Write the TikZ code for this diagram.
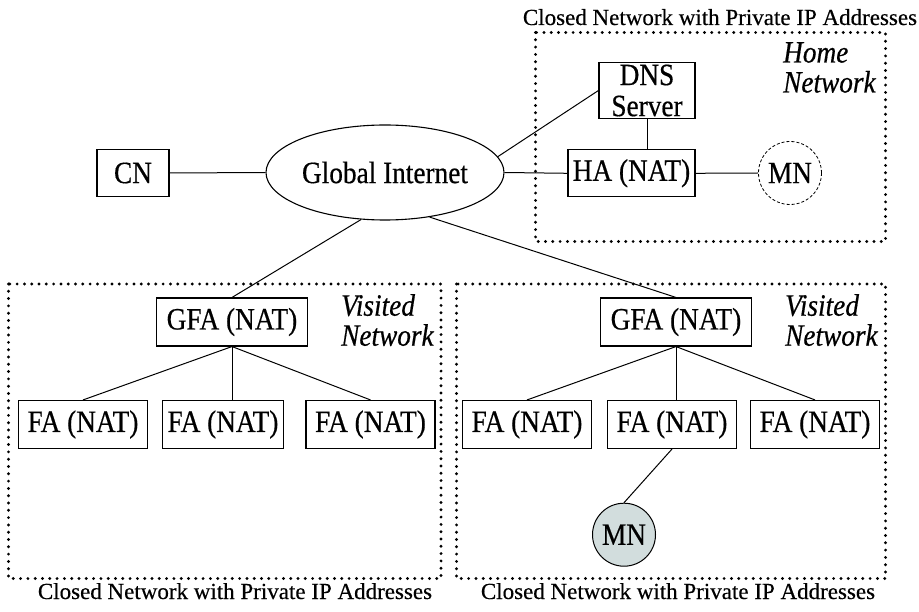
\documentclass[tikz,border=0pt]{standalone}
\usepackage{fontspec}
\setmainfont{Liberation Serif}[FakeBold=0.4]
\newfontfamily\nodefam{Liberation Serif}[FakeStretch=0.88,FakeBold=0.5]
\usetikzlibrary{shapes.geometric}
\definecolor{mngray}{RGB}{210,221,221}
\begin{document}
\begin{tikzpicture}[x=1pt,y=-1pt,
  nodefont/.style={font=\nodefam\fontsize{31}{31}\selectfont},
  box/.style={draw,line width=1.1pt,rectangle,inner sep=0pt,nodefont},
  fabox/.style={box,minimum width=129pt,minimum height=48pt},
  gfabox/.style={box,minimum width=151pt,minimum height=48pt},
  mnode/.style={draw,circle,inner sep=0pt,minimum size=63pt,nodefont},
  link/.style={line width=1pt},
  netbox/.style={line width=3.2pt,line cap=round,dash pattern=on 0pt off 7.3pt},
  netlabel/.style={font=\nodefam\fontsize{31}{30}\selectfont\itshape,align=left,inner sep=0pt,anchor=north west},
  closedlabel/.style={font=\fontsize{23}{25}\selectfont,inner sep=0pt,anchor=base}
]
\useasboundingbox (0,0) rectangle (919,612);
% dotted network boxes
\draw[netbox] (535.5,32.5) rectangle (885.5,241.5);
\draw[netbox] (8.5,284) rectangle (441,578.5);
\draw[netbox] (456.5,284) rectangle (885.5,578.5);
% labels of closed networks
\node[closedlabel] (lt) at (720,25) {Closed Network with Private IP Addresses};
\node[closedlabel] (lbl) at (235,599) {Closed Network with Private IP Addresses};
\node[closedlabel] (lbr) at (678,599) {Closed Network with Private IP Addresses};
\node[netlabel] (home) at (783,42) {Home\\Network};
\node[netlabel] (vis1) at (341,294) {Visited\\Network};
\node[netlabel] (vis2) at (785,294) {Visited\\Network};
% nodes
\node[box,minimum width=72pt,minimum height=47pt] (CN) at (133,173) {CN};
\node[draw,ellipse,line width=1.1pt,inner sep=0pt,minimum width=238pt,minimum height=95pt,nodefont] (GI) at (385,172.5) {Global Internet};
\node[box,minimum width=96pt,minimum height=56pt,align=center] (DNS) at (647,90.5) {DNS\\Server};
\node[box,minimum width=127pt,minimum height=47pt] (HA) at (631.5,173.3) {HA (NAT)};
\node[mnode,dashed,line width=0.8pt,dash pattern=on 3pt off 2pt] (MN1) at (790,173) {MN};
\node[gfabox] (G1) at (232,322) {GFA (NAT)};
\node[fabox] (F11) at (83,424.5) {FA (NAT)};
\node[fabox,minimum width=121pt] (F12) at (223,424.5) {FA (NAT)};
\node[fabox] (F13) at (370.5,424.5) {FA (NAT)};
\node[gfabox] (G2) at (676,322) {GFA (NAT)};
\node[fabox] (F21) at (527,424.5) {FA (NAT)};
\node[fabox] (F22) at (672,424.5) {FA (NAT)};
\node[fabox] (F23) at (815,424.5) {FA (NAT)};
\node[mnode,fill=mngray,line width=1pt] (MN2) at (624,534.7) {MN};
% connectors
\draw[link] (CN.east) -- (GI.west);
\draw[link] (GI.east) -- (HA.west);
\draw[link] (GI.8) -- (DNS.west);
\draw[link] (DNS.south) -- (DNS.south |- HA.north);
\draw[link] (HA.east) -- (MN1.west);
\draw[link] (GI.243) -- (G1.north);
\draw[link] (GI.-45) -- (G2.north);
\draw[link] (G1.south) -- (F11.north);
\draw[link] (G1.south) -- (G1.south |- F12.north);
\draw[link] (G1.south) -- (F13.north);
\draw[link] (G2.south) -- (F21.north);
\draw[link] (G2.south) -- (G2.south |- F22.north);
\draw[link] (G2.south) -- (F23.north);
\draw[link] (F22.south) -- (MN2.north);
\end{tikzpicture}
\end{document}
